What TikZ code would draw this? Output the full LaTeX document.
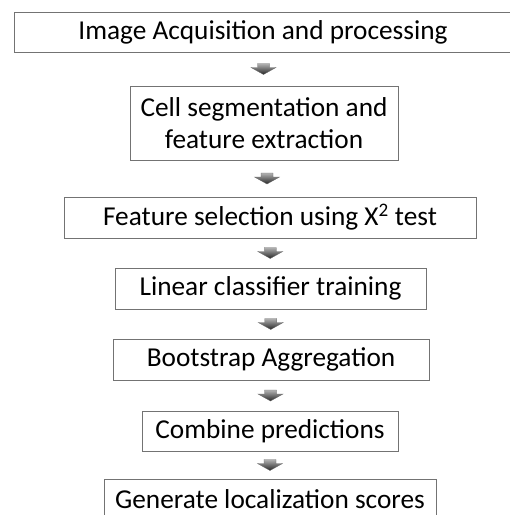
\documentclass[tikz,border=0pt]{standalone}
\usepackage{fontspec}
\setmainfont{Carlito}
\usetikzlibrary{calc}

\tikzset{
  stepbox/.style={draw=black!55, line width=0.9pt, inner sep=0pt, align=center,
    font=\fontsize{27.3}{32}\selectfont},
  downarrow/.pic={
    \shade[top color=black!30, bottom color=black!85, draw=black!60, line width=0.3pt]
      (-6,-5.5) -- (6,-5.5) -- (6,-1.5) -- (12.5,-1.5) -- (0,5.5)
      -- (-12.5,-1.5) -- (-6,-1.5) -- cycle;
  }
}
\newcommand{\flowarrow}[2]{\pic (#1-#2) at ($(#1.south)!0.5!(#2.north)$) {downarrow};}

\begin{document}
\begin{tikzpicture}[x=1pt,y=-1pt]
\useasboundingbox (0,0) rectangle (510,515);

% steps
\node[stepbox, minimum width=497pt, minimum height=40pt] (acq) at (263,32) {Image Acquisition and processing};
\node[stepbox, minimum width=268pt, minimum height=74pt] (seg) at (264,123) {Cell segmentation and\\feature extraction};
\node[stepbox, minimum width=412pt, minimum height=41pt] (sel) at (270,217.5) {Feature selection using X\textsuperscript{2} test};
\node[stepbox, minimum width=311pt, minimum height=41pt] (train) at (270.5,288.5) {Linear classifier training};
\node[stepbox, minimum width=316pt, minimum height=41pt] (bag) at (271,359.5) {Bootstrap Aggregation};
\node[stepbox, minimum width=256pt, minimum height=40pt] (comb) at (270,431) {Combine predictions};
\node[stepbox, minimum width=332pt, minimum height=41pt] (gen) at (270,499.5) {Generate localization scores};

% arrows
\flowarrow{acq}{seg}
\flowarrow{seg}{sel}
\flowarrow{sel}{train}
\flowarrow{train}{bag}
\flowarrow{bag}{comb}
\flowarrow{comb}{gen}
\end{tikzpicture}
\end{document}
